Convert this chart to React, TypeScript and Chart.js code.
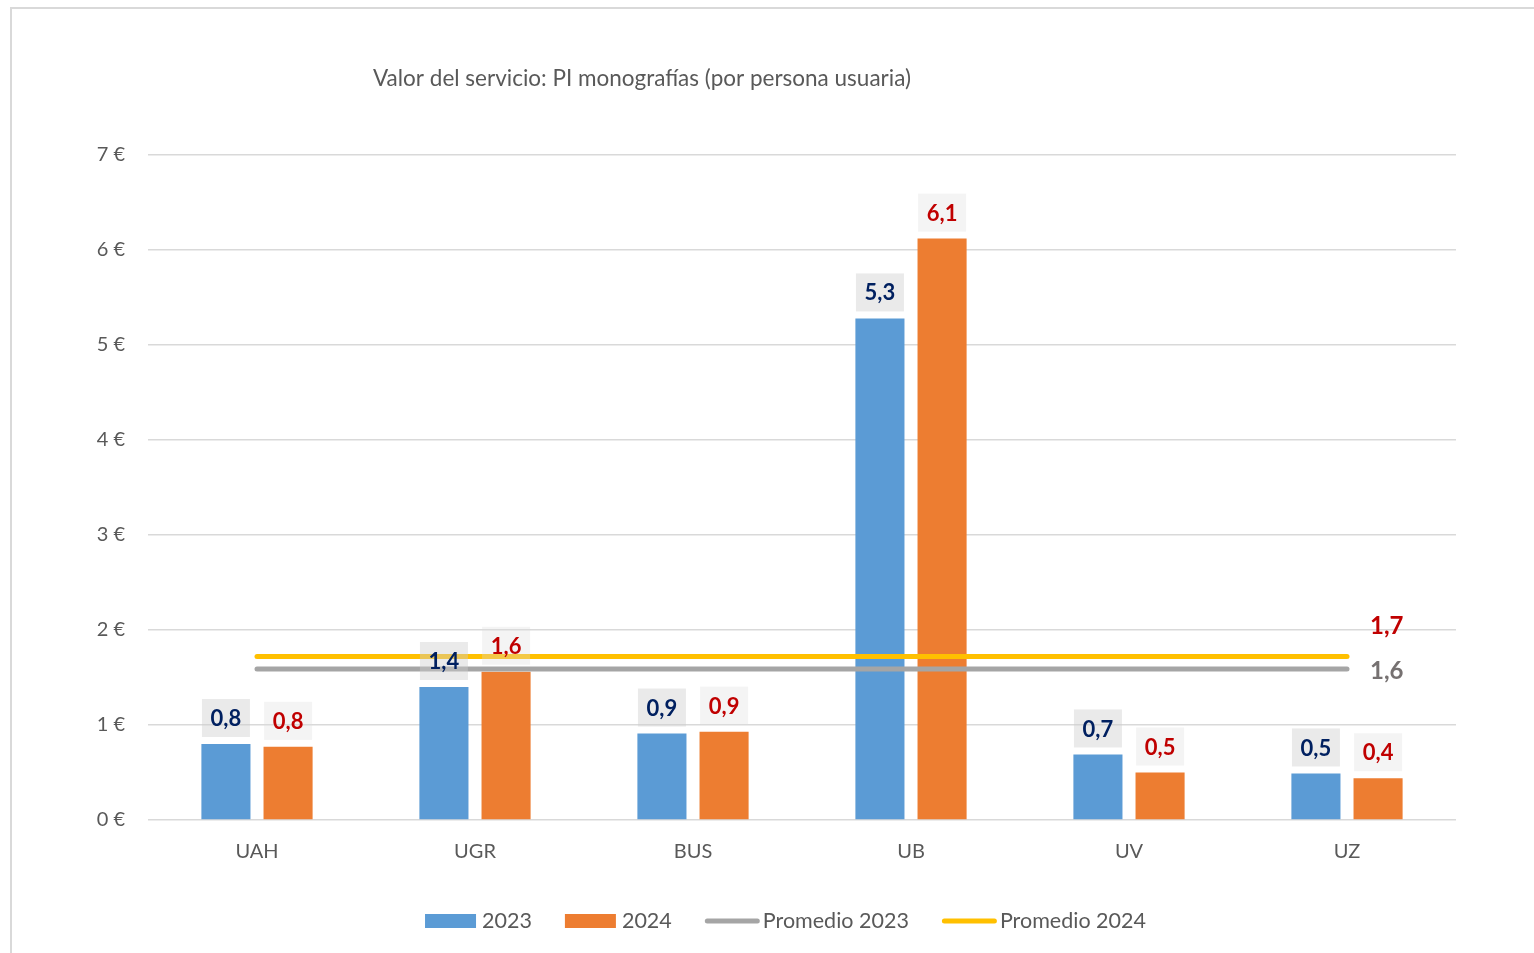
import React, { useEffect, useRef } from 'react';
import { Chart, registerables } from 'chart.js';

Chart.register(...registerables);

const categories = ['UAH', 'UGR', 'BUS', 'UB', 'UV', 'UZ'];
const values2023 = [0.8, 1.4, 0.91, 5.28, 0.69, 0.49];
const values2024 = [0.77, 1.56, 0.93, 6.12, 0.5, 0.44];
const promedio2023 = [1.59, 1.59, 1.59, 1.59, 1.59, 1.59];
const promedio2024 = [1.72, 1.72, 1.72, 1.72, 1.72, 1.72];
const yTickValues = [0, 1, 2, 3, 4, 5, 6, 7];
const seriesLabels = ['2023', '2024', 'Promedio 2023', 'Promedio 2024'];
const titleText = 'Valor del servicio: PI monografías (por persona usuaria)';

const FONT = 'Lato, "Open Sans", sans-serif';
const BLUE = '#5b9bd5';
const ORANGE = '#ed7d31';
const GRAY = '#a5a5a5';
const YELLOW = '#ffc000';
const TEXT = '#595959';

const fmt = (v: number) => v.toFixed(1).replace('.', ',');

const decorPlugin = {
  id: 'decor',
  beforeDraw(chart: any) {
    const ctx = chart.ctx;
    ctx.save();
    ctx.fillStyle = '#ffffff';
    ctx.fillRect(0, 0, chart.width, chart.height);
    ctx.strokeStyle = '#d9d9d9';
    ctx.lineWidth = 2;
    ctx.strokeRect(11, 8, chart.width + 50, chart.height + 50);
    ctx.font = `22.5px ${FONT}`;
    ctx.fillStyle = TEXT;
    ctx.textAlign = 'left';
    ctx.textBaseline = 'middle';
    ctx.fillText(titleText, chart.chartArea.left + 225, 79);
    ctx.restore();
  },
  afterDatasetsDraw(chart: any) {
    const ctx = chart.ctx;
    ctx.save();
    [0, 1].forEach((i) => {
      const meta = chart.getDatasetMeta(i);
      meta.data.forEach((bar: any, j: number) => {
        const v = chart.data.datasets[i].data[j] as number;
        const w = 48;
        const h = 38;
        const yb = bar.y - 7;
        ctx.fillStyle = i === 0 ? 'rgba(205,205,205,0.42)' : 'rgba(220,220,220,0.32)';
        ctx.fillRect(bar.x - w / 2, yb - h, w, h);
        ctx.fillStyle = i === 0 ? '#002060' : '#c00000';
        ctx.font = `bold 22px ${FONT}`;
        ctx.textAlign = 'center';
        ctx.textBaseline = 'middle';
        ctx.fillText(fmt(v), bar.x, yb - h / 2 + 1);
      });
    });
    const m23 = chart.getDatasetMeta(2);
    const m24 = chart.getDatasetMeta(3);
    const p23 = m23.data[m23.data.length - 1];
    const p24 = m24.data[m24.data.length - 1];
    ctx.font = `bold 24px ${FONT}`;
    ctx.textAlign = 'left';
    ctx.textBaseline = 'middle';
    ctx.fillStyle = '#c00000';
    ctx.fillText(fmt(chart.data.datasets[3].data[5]), p24.x + 23, p24.y - 30);
    ctx.fillStyle = '#767171';
    ctx.fillText(fmt(chart.data.datasets[2].data[5]), p23.x + 23, p23.y + 2);
    ctx.restore();
  },
  afterDraw(chart: any) {
    const ctx = chart.ctx;
    ctx.save();
    ctx.font = `21.5px ${FONT}`;
    const items = chart.data.datasets.map((ds: any, i: number) => ({
      label: ds.label,
      color: i < 2 ? ds.backgroundColor : ds.borderColor,
      type: i < 2 ? 'box' : 'line',
    }));
    const boxW = 51;
    const lineW = 55;
    const gapItem = 33;
    const widthOf = (it: any) =>
      (it.type === 'box' ? boxW + 6 : lineW + 3) + ctx.measureText(it.label).width;
    let total = 0;
    items.forEach((it: any, i: number) => {
      total += widthOf(it);
      if (i > 0) total += gapItem;
    });
    const cx = (chart.chartArea.left + chart.chartArea.right) / 2 - 16.5;
    let x = cx - total / 2;
    const y = 921;
    items.forEach((it: any) => {
      if (it.type === 'box') {
        ctx.fillStyle = it.color;
        ctx.fillRect(x, y - 7, boxW, 14);
        x += boxW + 6;
      } else {
        ctx.strokeStyle = it.color;
        ctx.lineWidth = 5;
        ctx.lineCap = 'round';
        ctx.beginPath();
        ctx.moveTo(x + 2.5, y);
        ctx.lineTo(x + lineW - 2.5, y);
        ctx.stroke();
        x += lineW + 3;
      }
      ctx.fillStyle = TEXT;
      ctx.textAlign = 'left';
      ctx.textBaseline = 'middle';
      ctx.fillText(it.label, x, y);
      x += ctx.measureText(it.label).width + gapItem;
    });
    ctx.restore();
  },
};

export default function App() {
  const ref = useRef<HTMLCanvasElement | null>(null);
  useEffect(() => {
    if (!ref.current) return;
    const chart = new Chart(ref.current, {
      type: 'bar',
      data: {
        labels: categories,
        datasets: [
          {
            type: 'bar',
            label: seriesLabels[0],
            data: values2023,
            backgroundColor: BLUE,
            order: 2,
            categoryPercentage: 0.57,
            barPercentage: 0.79,
          } as any,
          {
            type: 'bar',
            label: seriesLabels[1],
            data: values2024,
            backgroundColor: ORANGE,
            order: 2,
            categoryPercentage: 0.57,
            barPercentage: 0.79,
          } as any,
          {
            type: 'line',
            label: seriesLabels[2],
            data: promedio2023,
            borderColor: GRAY,
            backgroundColor: GRAY,
            borderWidth: 5,
            borderCapStyle: 'round',
            pointRadius: 0,
            fill: false,
            order: 1,
          } as any,
          {
            type: 'line',
            label: seriesLabels[3],
            data: promedio2024,
            borderColor: YELLOW,
            backgroundColor: YELLOW,
            borderWidth: 5,
            borderCapStyle: 'round',
            pointRadius: 0,
            fill: false,
            order: 1,
          } as any,
        ],
      },
      options: {
        animation: false,
        responsive: false,
        devicePixelRatio: 1,
        layout: { padding: { top: 155, right: 78, left: 0, bottom: 0 } },
        plugins: {
          legend: { display: false },
          title: { display: false },
          tooltip: { enabled: false },
        },
        scales: {
          x: {
            grid: { display: false },
            border: { display: false },
            ticks: { font: { family: FONT, size: 20 }, color: TEXT, padding: 12 },
            afterFit(scale: any) {
              scale.height = 133;
            },
          },
          y: {
            min: 0,
            max: 7,
            afterBuildTicks(scale: any) {
              scale.ticks = yTickValues.map((v) => ({ value: v }));
            },
            ticks: {
              font: { family: FONT, size: 20 },
              color: TEXT,
              padding: 23,
              callback: (v: any) => `${v} €`,
            },
            grid: { color: '#d9d9d9', lineWidth: 1.5, drawTicks: false },
            border: { display: false },
            afterFit(scale: any) {
              scale.width = 148;
            },
          },
        },
      },
      plugins: [decorPlugin],
    });
    return () => chart.destroy();
  }, []);
  return (
    <div style={{ position: 'absolute', left: 0, top: 0, width: 1534, height: 953 }}>
      <canvas ref={ref} width={1534} height={953} />
    </div>
  );
}
